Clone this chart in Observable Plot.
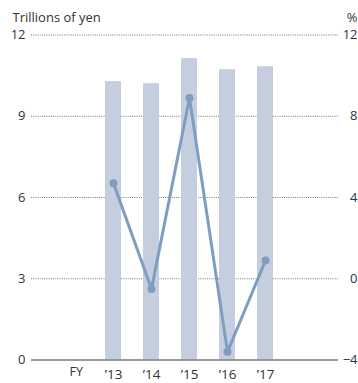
<!DOCTYPE html>
<html>
<head>
<meta charset="utf-8">
<script src="https://cdn.jsdelivr.net/npm/d3@7"></script>
<script src="https://cdn.jsdelivr.net/npm/@observablehq/plot@0.6"></script>
<style>
  body { margin: 0; background: #fff; }
  svg { font-family: "Open Sans", "Noto Sans", sans-serif; }
</style>
</head>
<body>
<div id="chart"></div>
<script>
// Fiscal years, revenue (trillions of yen, bars) and growth rate (%, line)
const years = ["’13", "’14", "’15", "’16", "’17"];
const revenue = [10.28, 10.20, 11.13, 10.72, 10.83];
const growth = [4.7, -0.5, 8.9, -3.6, 0.9];

const leftTicks = [0, 3, 6, 9, 12];
const rightTicks = [-4, 0, 4, 8, 12];

// The % axis shares the frame with the yen axis: -4..12 % maps onto 0..12 trillion
const pctToLeft = (p) => (p - rightTicks[0]) * (leftTicks[4] - leftTicks[0]) / (rightTicks[4] - rightTicks[0]);

const rows = years.map((year, i) => ({year, revenue: revenue[i], growth: growth[i]}));

const textColor = "#333";
const gridColor = "#777";

const chart = Plot.plot({
  width: 358,
  height: 383,
  marginLeft: 31,
  marginRight: 20,
  marginTop: 34.5,
  marginBottom: 23.5,
  style: {fontSize: "12.5px", color: textColor, background: "#fff"},
  x: {type: "band", domain: years, range: [93, 284], paddingInner: 0.58, paddingOuter: 0.29},
  y: {domain: [0, 12]},
  marks: [
    Plot.ruleY(leftTicks.filter((d) => d > 0), {stroke: gridColor, strokeWidth: 1, strokeDasharray: "1,1.2"}),
    Plot.barY(rows, {x: "year", y: "revenue", fill: "#c5cedf"}),
    Plot.ruleY([0], {stroke: "#7a7a7a", strokeWidth: 1.6}),
    Plot.line(rows, {x: "year", y: (d) => pctToLeft(d.growth), stroke: "#7e9dc1", strokeWidth: 3}),
    Plot.dot(rows, {x: "year", y: (d) => pctToLeft(d.growth), r: 4, fill: "#7e9dc1"}),
    Plot.axisY(leftTicks, {anchor: "left", tickSize: 0, tickPadding: 6, label: null, fill: textColor, fontSize: 13}),
    Plot.axisY(leftTicks, {
      anchor: "right", tickSize: 0, tickPadding: 0, label: null, fill: textColor, fontSize: 13,
      textAnchor: "end", dx: 19,
      tickFormat: (d) => {
        const v = rightTicks[leftTicks.indexOf(d)];
        return v < 0 ? "−" + Math.abs(v) : String(v);
      }
    }),
    Plot.axisX({tickSize: 0, tickPadding: 9, label: null, fill: textColor, fontSize: 13.5}),
    Plot.text(["FY"], {frameAnchor: "bottom-left", dx: 38, dy: 16, fill: textColor, fontSize: 12.5}),
    Plot.text(["Trillions of yen"], {frameAnchor: "top-left", textAnchor: "start", dx: -19, dy: -22, fill: textColor, fontSize: 13}),
    Plot.text(["%"], {frameAnchor: "top-right", textAnchor: "end", dx: 19, dy: -22, fill: textColor, fontSize: 13})
  ]
});

document.getElementById("chart").append(chart);
</script>
</body>
</html>
